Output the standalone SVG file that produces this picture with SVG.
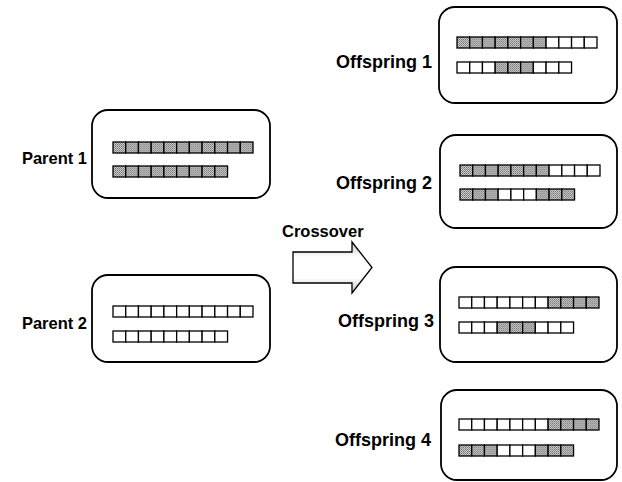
<svg xmlns="http://www.w3.org/2000/svg" width="622" height="482" viewBox="0 0 622 482">
<defs>
<pattern id="dots" width="2" height="2" patternUnits="userSpaceOnUse">
<rect width="2" height="2" fill="#cfcfcf"/>
<rect x="0" y="0" width="1" height="1" fill="#6e6e6e"/>
<rect x="1" y="1" width="1" height="1" fill="#8c8c8c"/>
</pattern>
<linearGradient id="arrowfill" x1="0" y1="0" x2="0" y2="1">
<stop offset="0" stop-color="#c4c4c4"/>
<stop offset="0.3" stop-color="#ffffff"/>
<stop offset="0.7" stop-color="#ffffff"/>
<stop offset="1" stop-color="#c4c4c4"/>
</linearGradient>
<g id="S"><rect width="12.73" height="11" fill="url(#dots)" stroke="#000" stroke-width="1.3"/></g>
<g id="W"><rect width="12.73" height="11" fill="#fff" stroke="#000" stroke-width="1.3"/></g>
</defs>
<style>
.box{fill:#fff;stroke:#000;stroke-width:1.8}
.lbl{font-family:"Liberation Sans",Arial,sans-serif;font-weight:bold;font-size:16.5px;fill:#000}
.olbl{font-family:"Liberation Sans",Arial,sans-serif;font-weight:bold;font-size:18px;fill:#000}
.clbl{font-family:"Liberation Sans",Arial,sans-serif;font-weight:bold;font-size:16.5px;fill:#000}
</style>
<rect width="622" height="482" fill="#fff"/>

<g id="parent1">
<rect class="box" x="92" y="110" width="178" height="88" rx="16"/>
<text class="lbl" x="87" y="164" text-anchor="end">Parent 1</text>
<g transform="translate(113,142)">
<use href="#S" x="0"/><use href="#S" x="12.73"/><use href="#S" x="25.45"/><use href="#S" x="38.18"/><use href="#S" x="50.91"/><use href="#S" x="63.64"/><use href="#S" x="76.36"/><use href="#S" x="89.09"/><use href="#S" x="101.82"/><use href="#S" x="114.55"/><use href="#S" x="127.27"/>
</g>
<g transform="translate(113,166)">
<use href="#S" x="0"/><use href="#S" x="12.73"/><use href="#S" x="25.45"/><use href="#S" x="38.18"/><use href="#S" x="50.91"/><use href="#S" x="63.64"/><use href="#S" x="76.36"/><use href="#S" x="89.09"/><use href="#S" x="101.82"/>
</g>
</g>

<g id="parent2">
<rect class="box" x="92" y="275" width="178" height="87" rx="16"/>
<text class="lbl" x="87" y="329" text-anchor="end">Parent 2</text>
<g transform="translate(113,306)">
<use href="#W" x="0"/><use href="#W" x="12.73"/><use href="#W" x="25.45"/><use href="#W" x="38.18"/><use href="#W" x="50.91"/><use href="#W" x="63.64"/><use href="#W" x="76.36"/><use href="#W" x="89.09"/><use href="#W" x="101.82"/><use href="#W" x="114.55"/><use href="#W" x="127.27"/>
</g>
<g transform="translate(113,331)">
<use href="#W" x="0"/><use href="#W" x="12.73"/><use href="#W" x="25.45"/><use href="#W" x="38.18"/><use href="#W" x="50.91"/><use href="#W" x="63.64"/><use href="#W" x="76.36"/><use href="#W" x="89.09"/><use href="#W" x="101.82"/>
</g>
</g>

<g id="offspring1">
<rect class="box" x="439" y="7" width="178" height="96" rx="16"/>
<text class="olbl" x="432" y="68" text-anchor="end">Offspring 1</text>
<g transform="translate(457,37)">
<use href="#S" x="0"/><use href="#S" x="12.73"/><use href="#S" x="25.45"/><use href="#S" x="38.18"/><use href="#S" x="50.91"/><use href="#S" x="63.64"/><use href="#S" x="76.36"/><use href="#W" x="89.09"/><use href="#W" x="101.82"/><use href="#W" x="114.55"/><use href="#W" x="127.27"/>
</g>
<g transform="translate(457,62)">
<use href="#W" x="0"/><use href="#W" x="12.73"/><use href="#W" x="25.45"/><use href="#S" x="38.18"/><use href="#S" x="50.91"/><use href="#S" x="63.64"/><use href="#W" x="76.36"/><use href="#W" x="89.09"/><use href="#W" x="101.82"/>
</g>
</g>

<g id="offspring2">
<rect class="box" x="440" y="135" width="177" height="93" rx="16"/>
<text class="olbl" x="432" y="189" text-anchor="end">Offspring 2</text>
<g transform="translate(460,165)">
<use href="#S" x="0"/><use href="#S" x="12.73"/><use href="#S" x="25.45"/><use href="#S" x="38.18"/><use href="#S" x="50.91"/><use href="#S" x="63.64"/><use href="#S" x="76.36"/><use href="#W" x="89.09"/><use href="#W" x="101.82"/><use href="#W" x="114.55"/><use href="#W" x="127.27"/>
</g>
<g transform="translate(460,189)">
<use href="#S" x="0"/><use href="#S" x="12.73"/><use href="#S" x="25.45"/><use href="#W" x="38.18"/><use href="#W" x="50.91"/><use href="#W" x="63.64"/><use href="#S" x="76.36"/><use href="#S" x="89.09"/><use href="#S" x="101.82"/>
</g>
</g>

<g id="offspring3">
<rect class="box" x="440" y="267" width="177" height="95" rx="16"/>
<text class="olbl" x="434" y="327" text-anchor="end">Offspring 3</text>
<g transform="translate(459,297)">
<use href="#W" x="0"/><use href="#W" x="12.73"/><use href="#W" x="25.45"/><use href="#W" x="38.18"/><use href="#W" x="50.91"/><use href="#W" x="63.64"/><use href="#W" x="76.36"/><use href="#S" x="89.09"/><use href="#S" x="101.82"/><use href="#S" x="114.55"/><use href="#S" x="127.27"/>
</g>
<g transform="translate(459,322)">
<use href="#W" x="0"/><use href="#W" x="12.73"/><use href="#W" x="25.45"/><use href="#S" x="38.18"/><use href="#S" x="50.91"/><use href="#S" x="63.64"/><use href="#W" x="76.36"/><use href="#W" x="89.09"/><use href="#W" x="101.82"/>
</g>
</g>

<g id="offspring4">
<rect class="box" x="441" y="390" width="176" height="90" rx="16"/>
<text class="olbl" x="431" y="446" text-anchor="end">Offspring 4</text>
<g transform="translate(459,419)">
<use href="#W" x="0"/><use href="#W" x="12.73"/><use href="#W" x="25.45"/><use href="#W" x="38.18"/><use href="#W" x="50.91"/><use href="#W" x="63.64"/><use href="#W" x="76.36"/><use href="#S" x="89.09"/><use href="#S" x="101.82"/><use href="#S" x="114.55"/><use href="#S" x="127.27"/>
</g>
<g transform="translate(459,445)">
<use href="#S" x="0"/><use href="#S" x="12.73"/><use href="#S" x="25.45"/><use href="#W" x="38.18"/><use href="#W" x="50.91"/><use href="#W" x="63.64"/><use href="#S" x="76.36"/><use href="#S" x="89.09"/><use href="#S" x="101.82"/>
</g>
</g>

<g id="connectors">
<polygon points="293,252 352,252 352,242 372,267.5 352,293 352,283 293,283" fill="url(#arrowfill)" stroke="#000" stroke-width="1.3"/>
<text class="clbl" x="282" y="237">Crossover</text>
</g>
</svg>
